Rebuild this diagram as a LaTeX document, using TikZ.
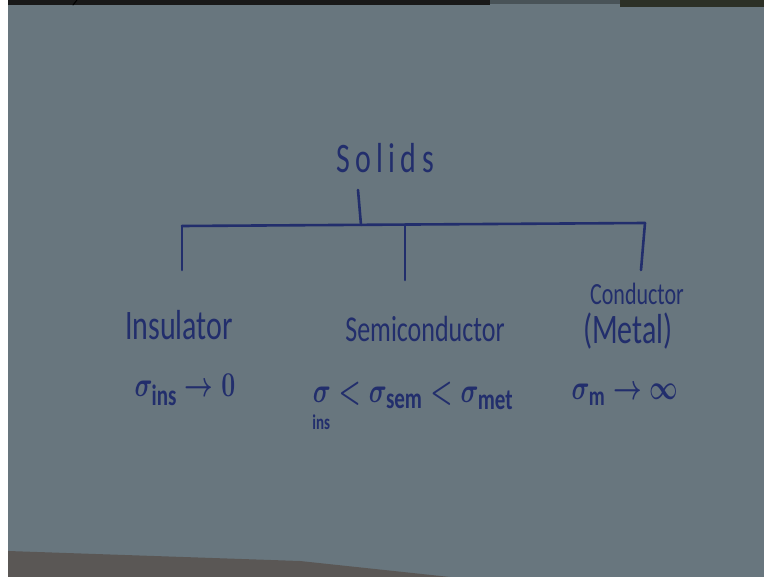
\documentclass[tikz,border=0pt]{standalone}
\usepackage{fontspec}
\setmainfont{Carlito}
\definecolor{board}{HTML}{68767E}
\definecolor{ink}{HTML}{222E6C}
\definecolor{rim}{HTML}{5A5755}
\definecolor{topband}{HTML}{2C3026}
\newcommand\tall[1]{\scalebox{1}[1.4]{#1}}
\begin{document}
\begin{tikzpicture}[x=1pt,y=-1pt,line cap=round,
	pen/.style={draw=ink,line width=2.6pt},
	hand/.style={text=ink,inner sep=0pt,anchor=base}]
	
	\useasboundingbox (0,0) rectangle (764,577);
	% board and its edges
	\fill[board] (0,0) rectangle (764,577);
	\fill[white] (0,0) rectangle (8,577);
	\fill[black!90] (8,0) rectangle (490,5);
	\fill[topband] (620,0) rectangle (764,7);
	\fill[board!70!black] (490,0) rectangle (620,4);
	\fill[rim] (8,551) -- (300,561) -- (450,577) -- (8,577) -- cycle;
	\draw[black,line width=1pt] (73,5) -- (77,0);
	
	% labels
	\node[hand,font=\fontsize{30}{32}\selectfont] (solids) at (385,173) {\tall{\addfontfeature{LetterSpace=18}Solids}};
	\node[hand,font=\fontsize{30}{32}\selectfont] (ins) at (179,340) {\tall{Insulator}};
	\node[hand,font=\fontsize{26}{28}\selectfont] (semi) at (425,342) {\tall{Semiconductor}};
	\node[hand,font=\fontsize{22}{24}\selectfont] (cond) at (637,305) {\tall{Conductor}};
	\node[hand,font=\fontsize{30}{32}\selectfont] (metal) at (628,344) {\tall{(Metal)}};
	\node[hand,font=\fontsize{30}{32}\selectfont\boldmath] (sigins) at (185,397) {\tall{$\sigma_{\mathrm{ins}}\to 0$}};
	\node[hand,font=\fontsize{30}{32}\selectfont\boldmath] (sigsemi) at (413,403) {\tall{$\mathop{\sigma}\limits_{\hbox{\rule{0pt}{17pt}$\scriptscriptstyle\mathrm{ins}$}} < \sigma_{\mathrm{sem}} < \sigma_{\mathrm{met}}$}};
	\node[hand,font=\fontsize{28}{30}\selectfont\boldmath] (sigmet) at (625,400) {\tall{$\sigma_{\mathrm{m}}\to\infty$}};
	
	% tree
	\coordinate (stem) at (358,190);
	\coordinate (junc) at (361,225);
	\coordinate (barL) at (182,226);
	\coordinate (barM) at (405,224.5);
	\coordinate (barR) at (645,223);
	\coordinate (dropL) at (182,270);
	\coordinate (dropM) at (405,280);
	\coordinate (dropR) at (641,270);
	\draw[pen] (stem) -- (junc);
	\draw[pen] (barL) -- (barR);
	\foreach \p/\q in {barL/dropL,barM/dropM,barR/dropR}\draw[pen] (\p) -- (\q);
	
\end{tikzpicture}
\end{document}
